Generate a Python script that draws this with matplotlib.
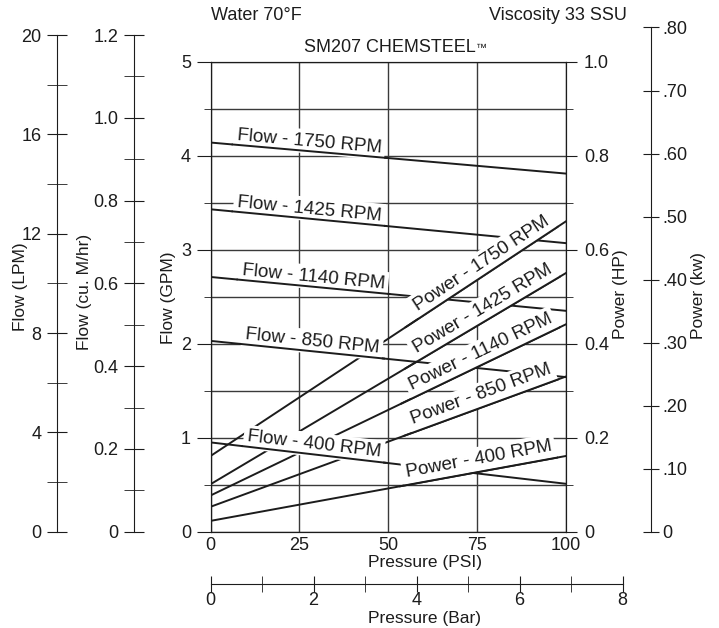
import numpy as np
import matplotlib.pyplot as plt

plt.rcParams['font.family'] = ['Liberation Sans', 'DejaVu Sans']

# values
pressure_psi = [0, 100]
speeds = ['1750', '1425', '1140', '850', '400']
flow_gpm = [[4.14, 3.81], [3.43, 3.07], [2.71, 2.35], [2.03, 1.645], [0.95, 0.51]]
power_hp = [[0.161, 0.66], [0.101, 0.55], [0.077, 0.441], [0.053, 0.33], [0.023, 0.161]]

# tick values of the scales
psi_ticks = [0, 25, 50, 75, 100]
bar_ticks = [0, 2, 4, 6, 8]
gpm_ticks = [0, 1, 2, 3, 4, 5]
hp_ticks = [0, 0.2, 0.4, 0.6, 0.8, 1.0]
hp_labels = ['0', '0.2', '0.4', '0.6', '0.8', '1.0']
lpm_ticks = [0, 4, 8, 12, 16, 20]
m3h_ticks = [0, 0.2, 0.4, 0.6, 0.8, 1.0, 1.2]
m3h_labels = ['0', '0.2', '0.4', '0.6', '0.8', '1.0', '1.2']
kw_ticks = [0, 0.1, 0.2, 0.3, 0.4, 0.5, 0.6, 0.7, 0.8]
kw_labels = ['0', '.10', '.20', '.30', '.40', '.50', '.60', '.70', '.80']

# unit conversions
LPM_PER_GPM = 3.785
M3H_PER_GPM = 0.2271
KW_PER_HP = 0.7457
PSI_PER_BAR = 14.5038

ink = '#1c1c1c'
grid_c = '#3a3a3a'
fs = 13

W, H = 719, 628
fig = plt.figure(figsize=(W / 100, H / 100), dpi=100)
ax = fig.add_axes([210.5 / W, 1 - 531.7 / H, 355.2 / W, 470 / H])
pos = ax.get_position()

ax.set_xlim(0, 100)
ax.set_ylim(0, 5)
ax.set_xticks(psi_ticks)
ax.set_yticks(gpm_ticks)
ax.set_yticks(np.arange(0.5, 5, 1.0), minor=True)
ax.grid(True, axis='y', which='both', color=grid_c, lw=1.0)
ax.grid(True, axis='x', which='major', color=grid_c, lw=1.0)
ax.tick_params(axis='x', length=0, pad=4, labelsize=fs, colors=ink)
ax.tick_params(axis='y', which='major', length=10, pad=4, labelsize=fs, colors=ink)
ax.tick_params(axis='y', which='minor', length=5, colors=ink)
for s in ax.spines.values():
    s.set_color(ink)

ax_hp = ax.twinx()
ax_hp.set_ylim(0, 1.0)
ax_hp.set_yticks(hp_ticks, hp_labels)
ax_hp.set_yticks(np.arange(0.1, 1.0, 0.2), minor=True)
ax_hp.tick_params(which='major', length=8, pad=5, labelsize=fs, colors=ink)
ax_hp.tick_params(which='minor', length=5, colors=ink)
for s in ax_hp.spines.values():
    s.set_color(ink)

# curves
for f in flow_gpm:
    ax.plot(pressure_psi, f, color=ink, lw=1.4, zorder=2)
for p in power_hp:
    ax_hp.plot(pressure_psi, p, color=ink, lw=1.4, zorder=2)

# labels sitting on the curves
flow_label_psi = [7.4, 7.4, 8.8, 9.7, 10.2]
power_label_psi = [58.4, 58.0, 56.6, 57.0, 55.2]
box = dict(fc='white', ec='none', pad=2.5)
labels = []
for rpm, f, x in zip(speeds, flow_gpm, flow_label_psi):
    slope = (f[1] - f[0]) / 100
    ang = np.degrees(np.arctan2(f[1] - f[0], 100))
    t = ax_hp.text(x, f[0] + slope * x + 0.055, 'Flow - %s RPM' % rpm,
                   transform=ax.transData, rotation=ang, transform_rotates_text=True,
                   rotation_mode='anchor', ha='left', va='baseline', fontsize=13.5,
                   color=ink, bbox=box, zorder=5)
    labels.append((t, f, ax.transData))
for rpm, p, x in zip(speeds, power_hp, power_label_psi):
    slope = (p[1] - p[0]) / 100
    ang = np.degrees(np.arctan2(p[1] - p[0], 100))
    t = ax_hp.text(x, p[0] + slope * x + 0.018, 'Power - %s RPM' % rpm,
                   rotation=ang, transform_rotates_text=True,
                   rotation_mode='anchor', ha='left', va='baseline', fontsize=13.5,
                   color=ink, bbox=box, zorder=5)
    labels.append((t, p, ax_hp.transData))

# headings
fig.text(211 / W, 1 - 15 / H, 'Water 70°F', ha='left', va='center', fontsize=13, color=ink)
fig.text(627 / W, 1 - 15 / H, 'Viscosity 33 SSU', ha='right', va='center', fontsize=13, color=ink)
title = fig.text(389.5 / W, 1 - 48 / H, 'SM207 CHEMSTEEL', ha='center', va='center',
                 fontsize=13, color=ink)

# redraw each curve's own piece under its label so the white box does not cut it
fig.canvas.draw()
renderer = fig.canvas.get_renderer()
for t, vals, tr in labels:
    bb = t.get_bbox_patch().get_window_extent(renderer)
    x0 = ax.transData.inverted().transform((bb.x0, 0))[0]
    x1 = ax.transData.inverted().transform((bb.x1, 0))[0]
    x0, x1 = max(x0, 0), min(x1, 100)
    xs = np.array([x0, x1])
    ys = vals[0] + (vals[1] - vals[0]) * xs / 100
    ax_hp.plot(xs, ys, color=ink, lw=1.4, zorder=6, transform=tr)
ax_hp.set_ylim(0, 1.0)
ax.set_xlim(0, 100)

# small trademark sign after the title
tb = title.get_window_extent(renderer)
fig.text((tb.x1 + 1) / W, (tb.y1 - 3) / H, '™', ha='left', va='top', fontsize=8, color=ink)


def scale_axis(rect, keep):
    a = fig.add_axes(rect)
    a.patch.set_visible(False)
    for name, s in a.spines.items():
        s.set_visible(name == keep)
        s.set_color(ink)
    return a


# Flow (LPM)
ax_l = scale_axis([57 / W, pos.y0, 0.0001, pos.height * (20 / LPM_PER_GPM) / 5], 'left')
ax_l.set_ylim(0, 20)
ax_l.set_xticks([])
ax_l.set_yticks(lpm_ticks)
ax_l.set_yticks([2, 6, 10, 14, 18], minor=True)
ax_l.tick_params(axis='y', which='both', direction='inout', length=14, pad=4,
                 labelsize=fs, colors=ink)

# Flow (cu. M/hr)
ax_m = scale_axis([134 / W, pos.y0, 0.0001, pos.height * (1.2 / M3H_PER_GPM) / 5], 'left')
ax_m.set_ylim(0, 1.2)
ax_m.set_xticks([])
ax_m.set_yticks(m3h_ticks, m3h_labels)
ax_m.set_yticks(np.arange(0.1, 1.2, 0.2), minor=True)
ax_m.tick_params(axis='y', which='both', direction='inout', length=14, pad=4,
                 labelsize=fs, colors=ink)

# Power (kw)
ax_k = scale_axis([651 / W, pos.y0, 0.0001, pos.height * (0.8 / KW_PER_HP)], 'right')
ax_k.set_ylim(0, 0.8)
ax_k.set_xticks([])
ax_k.yaxis.tick_right()
ax_k.set_yticks(kw_ticks, kw_labels)
ax_k.tick_params(axis='y', direction='inout', length=12, pad=2, labelsize=fs, colors=ink)

# Pressure (Bar)
ax_b = scale_axis([pos.x0, 1 - 584.3 / H, pos.width * 8 * PSI_PER_BAR / 100, 0.0001], 'bottom')
ax_b.set_xlim(0, 8)
ax_b.set_yticks([])
ax_b.set_xticks(bar_ticks)
ax_b.set_xticks([1, 3, 5, 7], minor=True)
ax_b.tick_params(axis='x', which='both', direction='inout', length=11, pad=0,
                 labelsize=fs, colors=ink)

# axis titles
lab = dict(fontsize=12.5, color=ink, ha='center', va='center')
fig.text(21 / W, 1 - 287 / H, 'Flow (LPM)', rotation=90, **lab)
fig.text(84 / W, 1 - 292 / H, 'Flow (cu. M/hr)', rotation=90, **lab)
fig.text(168 / W, 1 - 298 / H, 'Flow (GPM)', rotation=90, **lab)
fig.text(621 / W, 1 - 294 / H, 'Power (HP)', rotation=90, **lab)
fig.text(698 / W, 1 - 296 / H, 'Power (kw)', rotation=90, **lab)
fig.text(425 / W, 1 - 563 / H, 'Pressure (PSI)', **lab)
fig.text(425 / W, 1 - 618 / H, 'Pressure (Bar)', **lab)

fig.savefig('out.png', dpi=100, facecolor='white')
